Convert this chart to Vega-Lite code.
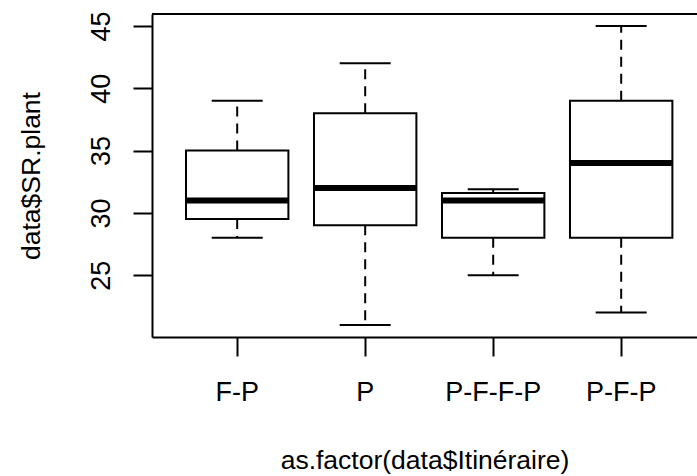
{
  "$schema": "https://vega.github.io/schema/vega-lite/v6.json",
  "autosize": "none",
  "width": 545,
  "height": 323,
  "padding": {"left": 152, "top": 14, "right": 0, "bottom": 139},
  "background": "white",
  "config": {
    "view": {"stroke": null},
    "font": "Liberation Sans",
    "axis": {"grid": false, "domainColor": "#000", "domainWidth": 2, "tickColor": "#000", "tickWidth": 2, "tickSize": 19, "labelColor": "#000", "titleColor": "#000", "labelFont": "Liberation Sans", "titleFont": "Liberation Sans", "labelFontSize": 27, "titleFontSize": 26.5, "titleFontWeight": "normal"}
  },
  "data": {
    "values": [
      {"itin": "F-P", "lower": 28, "q1": 29.5, "median": 31, "q3": 35, "upper": 39},
      {"itin": "P", "lower": 21, "q1": 29, "median": 32, "q3": 38, "upper": 42},
      {"itin": "P-F-F-P", "lower": 25, "q1": 28, "median": 31, "q3": 31.6, "upper": 31.9},
      {"itin": "P-F-P", "lower": 22, "q1": 28, "median": 34, "q3": 39, "upper": 45}
    ]
  },
  "layer": [
    {
      "mark": {"type": "rule", "strokeDash": [10, 7], "strokeWidth": 2, "color": "#000"},
      "encoding": {
        "x": {
          "field": "itin", "type": "nominal", "sort": null,
          "scale": {"type": "band", "paddingInner": 0.2, "paddingOuter": 0.229, "align": 0.58},
          "axis": {"title": "as.factor(data$Itinéraire)", "labelAngle": 0, "labelPadding": 23, "titlePadding": 42}
        },
        "y": {"field": "q1", "type": "quantitative", "scale": {"domain": [20.04, 45.96], "nice": false, "zero": false},
          "axis": {"title": "data$SR.plant", "values": [25, 30, 35, 40, 45], "labelAngle": -90, "labelPadding": 18, "titlePadding": 42}},
        "y2": {"field": "lower"}
      }
    },
    {
      "mark": {"type": "rule", "strokeDash": [10, 7], "strokeWidth": 2, "color": "#000"},
      "encoding": {
        "x": {"field": "itin", "type": "nominal", "sort": null},
        "y": {"field": "q3", "type": "quantitative"},
        "y2": {"field": "upper"}
      }
    },
    {
      "mark": {"type": "tick", "orient": "horizontal", "size": 51, "thickness": 2, "color": "#000", "opacity": 1},
      "encoding": {
        "x": {"field": "itin", "type": "nominal", "sort": null},
        "y": {"field": "lower", "type": "quantitative"}
      }
    },
    {
      "mark": {"type": "tick", "orient": "horizontal", "size": 51, "thickness": 2, "color": "#000", "opacity": 1},
      "encoding": {
        "x": {"field": "itin", "type": "nominal", "sort": null},
        "y": {"field": "upper", "type": "quantitative"}
      }
    },
    {
      "mark": {"type": "bar", "fill": "white", "stroke": "#000", "strokeWidth": 2},
      "encoding": {
        "x": {"field": "itin", "type": "nominal", "sort": null},
        "y": {"field": "q1", "type": "quantitative"},
        "y2": {"field": "q3"}
      }
    },
    {
      "mark": {"type": "tick", "orient": "horizontal", "size": 102, "thickness": 6, "color": "#000", "opacity": 1},
      "encoding": {
        "x": {"field": "itin", "type": "nominal", "sort": null},
        "y": {"field": "median", "type": "quantitative"}
      }
    },
    {
      "mark": {"type": "rule", "strokeWidth": 2, "color": "#000"},
      "encoding": {"y": {"datum": 45.96, "type": "quantitative"}}
    }
  ]
}
